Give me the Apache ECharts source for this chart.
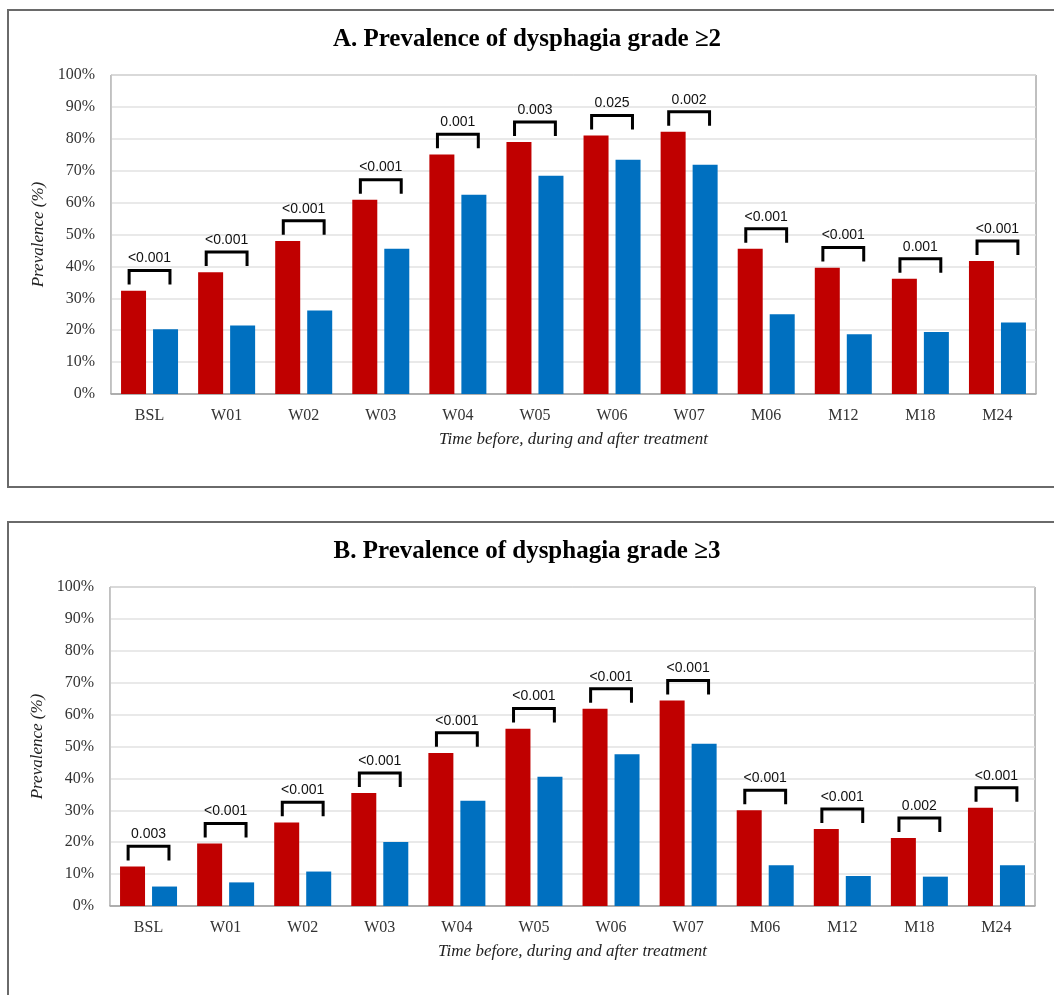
<!DOCTYPE html>
<html>
<head>
<meta charset="utf-8">
<script src="https://cdn.jsdelivr.net/npm/echarts@6/dist/echarts.min.js"></script>
<style>
html,body{margin:0;padding:0;background:#fff;}
#chart{width:1054px;height:995px;}
</style>
</head>
<body>
<div id="chart"></div>
<script>
var categories = ['BSL','W01','W02','W03','W04','W05','W06','W07','M06','M12','M18','M24'];
var yTicks = [0,10,20,30,40,50,60,70,80,90,100];

var gradeA_red  = [32.4, 38.2, 48.0, 60.9, 75.1, 79.0, 81.0, 82.2, 45.5, 39.6, 36.1, 41.7];
var gradeA_blue = [20.3, 21.5, 26.2, 45.5, 62.5, 68.4, 73.4, 71.9, 25.0, 18.7, 19.4, 22.4];
var gradeA_p    = ['<0.001','<0.001','<0.001','<0.001','0.001','0.003','0.025','0.002','<0.001','<0.001','0.001','<0.001'];

var gradeB_red  = [12.4, 19.6, 26.2, 35.4, 48.0, 55.6, 61.8, 64.4, 30.0, 24.1, 21.3, 30.8];
var gradeB_blue = [6.1, 7.4, 10.8, 20.1, 33.0, 40.5, 47.6, 50.9, 12.8, 9.4, 9.2, 12.8];
var gradeB_p    = ['0.003','<0.001','<0.001','<0.001','<0.001','<0.001','<0.001','<0.001','<0.001','<0.001','0.002','<0.001'];

var titles = ['A. Prevalence of dysphagia grade \u22652', 'B. Prevalence of dysphagia grade \u22653'];
var xTitle = 'Time before, during and after treatment';
var yTitle = 'Prevalence (%)';

var RED = '#C00000', BLUE = '#0070C0';
var SERIF = '"Liberation Serif", "DejaVu Serif", serif';

function bracketData(red){
  return red.map(function(v, i){ return [i, v + 6.3, v + 1.9]; });
}
function makeRender(labels){
  return function(params, api){
    var idx = api.value(0);
    var top = api.coord([idx, api.value(1)]);
    var leg = api.coord([idx, api.value(2)]);
    var bw = api.size([1, 0])[0];
    var half = bw * 0.265;
    var x = top[0];
    return {
      type: 'group',
      children: [
        { type: 'polyline',
          shape: { points: [[x - half, leg[1]], [x - half, top[1]], [x + half, top[1]], [x + half, leg[1]]] },
          style: { stroke: '#000', lineWidth: 3, fill: null } },
        { type: 'text',
          style: { text: labels[idx], x: x, y: top[1] - 5, align: 'center', verticalAlign: 'bottom',
                   font: '14px "Liberation Sans", Arial, sans-serif', fill: '#111' } }
      ]
    };
  };
}

function xAxisCfg(gi){
  return {
    type: 'category', gridIndex: gi, data: categories,
    axisTick: { show: false },
    axisLine: { lineStyle: { color: '#a0a0a0', width: 1.5 } },
    axisLabel: { color: '#333', fontFamily: SERIF, fontSize: 16, margin: 14 },
    name: xTitle, nameLocation: 'middle', nameGap: 37,
    nameTextStyle: { fontFamily: SERIF, fontStyle: 'italic', fontSize: 17, color: '#222' }
  };
}
function yAxisCfg(gi){
  return {
    type: 'value', gridIndex: gi, min: yTicks[0], max: yTicks[yTicks.length - 1], interval: yTicks[1] - yTicks[0],
    axisLine: { show: true, lineStyle: { color: '#c8c8c8' } },
    axisTick: { show: false },
    axisLabel: { formatter: '{value}%', color: '#333', fontFamily: SERIF, fontSize: 16, margin: 16 },
    splitLine: { lineStyle: { color: '#e2e2e2', width: 1.5 } },
    name: yTitle, nameLocation: 'middle', nameGap: 54,
    nameTextStyle: { fontFamily: SERIF, fontStyle: 'italic', fontSize: 17, color: '#222' }
  };
}
function barSeries(gi, data, color){
  return { type: 'bar', xAxisIndex: gi, yAxisIndex: gi, data: data, barWidth: 25, barGap: '28%',
           itemStyle: { color: color }, silent: true };
}

var chart = echarts.init(document.getElementById('chart'), null, { renderer: 'canvas' });
chart.setOption({
  animation: false,
  backgroundColor: '#fff',
  title: [
    { text: titles[0], left: 'center', top: 22, textStyle: { fontFamily: SERIF, fontWeight: 'bold', fontSize: 25, color: '#000' } },
    { text: titles[1], left: 'center', top: 534, textStyle: { fontFamily: SERIF, fontWeight: 'bold', fontSize: 25, color: '#000' } }
  ],
  graphic: [
    { type: 'rect', shape: { x: 8, y: 10, width: 1070, height: 477 }, style: { fill: null, stroke: '#6a6a6a', lineWidth: 2 }, silent: true },
    { type: 'rect', shape: { x: 8, y: 522, width: 1070, height: 520 }, style: { fill: null, stroke: '#6a6a6a', lineWidth: 2 }, silent: true }
  ],
  grid: [
    { left: 111, top: 75, width: 925, height: 319, show: true, borderColor: '#808080', borderWidth: 1, backgroundColor: 'transparent' },
    { left: 110, top: 587, width: 925, height: 319, show: true, borderColor: '#808080', borderWidth: 1, backgroundColor: 'transparent' }
  ],
  xAxis: [xAxisCfg(0), xAxisCfg(1)],
  yAxis: [yAxisCfg(0), yAxisCfg(1)],
  series: [
    barSeries(0, gradeA_red, RED),
    barSeries(0, gradeA_blue, BLUE),
    { type: 'custom', xAxisIndex: 0, yAxisIndex: 0, data: bracketData(gradeA_red), renderItem: makeRender(gradeA_p), silent: true, z: 5 },
    barSeries(1, gradeB_red, RED),
    barSeries(1, gradeB_blue, BLUE),
    { type: 'custom', xAxisIndex: 1, yAxisIndex: 1, data: bracketData(gradeB_red), renderItem: makeRender(gradeB_p), silent: true, z: 5 }
  ]
});
</script>
</body>
</html>
